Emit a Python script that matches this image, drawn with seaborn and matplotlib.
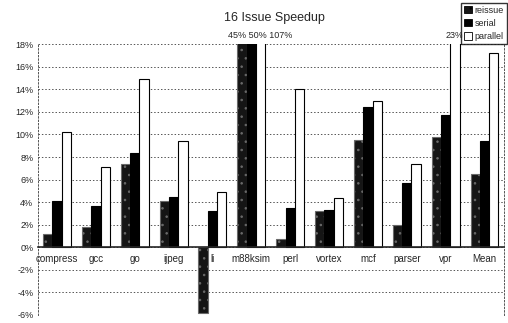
import pandas as pd
import matplotlib.pyplot as plt
import seaborn as sns
from matplotlib.ticker import FuncFormatter

# Benchmarks and speedup (%) for each configuration
benchmarks = ['compress', 'gcc', 'go', 'ijpeg', 'li', 'm88ksim', 'perl',
              'vortex', 'mcf', 'parser', 'vpr', 'Mean']
series = ['reissue', 'serial', 'parallel']
reissue = [1.2, 1.8, 7.4, 4.1, -5.8, 45, 0.7, 3.2, 9.5, 2.0, 9.8, 6.5]
serial = [4.1, 3.7, 8.4, 4.5, 3.2, 50, 3.5, 3.3, 12.4, 5.7, 11.7, 9.4]
parallel = [10.2, 7.1, 14.9, 9.4, 4.9, 107, 14.0, 4.4, 13.0, 7.4, 23, 17.2]

ymin, ymax = -6, 18

df = pd.DataFrame({'Benchmark': benchmarks * 3,
                   'Config': [s for s in series for _ in benchmarks],
                   'Speedup': reissue + serial + parallel})

sns.set_style("white")
plt.rcParams['font.family'] = ['Liberation Sans', 'DejaVu Sans']
plt.rcParams['hatch.linewidth'] = 0.6

fig = plt.figure(figsize=(5.08, 3.23), dpi=100)
ax = fig.add_axes([0.074, 0.025, 0.918, 0.838])

palette = {'reissue': '#151515', 'serial': '#000000', 'parallel': '#ffffff'}
sns.barplot(data=df, x='Benchmark', y='Speedup', hue='Config', hue_order=series,
            palette=palette, width=0.72, edgecolor='black', linewidth=0.8,
            saturation=1, ax=ax, legend=False)

# speckled look for the reissue bars
for bar in ax.containers[0]:
    bar.set_hatch('..')
    bar.set_edgecolor('#6a6a6a')

ax.set_ylim(ymin, ymax)
ax.set_xlim(-0.5, len(benchmarks) - 0.5)
ax.set_yticks(range(ymin, ymax + 1, 2))
ax.yaxis.set_major_formatter(FuncFormatter(lambda y, _: f'{y:.0f}%'))
ax.tick_params(axis='y', labelsize=6.5, length=0, pad=3)
ax.tick_params(axis='x', labelsize=7, length=0, pad=5)
ax.set_xlabel('')
ax.set_ylabel('')
ax.set_axisbelow(True)
ax.yaxis.grid(True, linestyle=(0, (1.5, 2)), color='#555555', linewidth=0.7)

# x axis sits at zero, labels just under it
ax.spines['bottom'].set_position(('data', 0))
ax.spines['bottom'].set_linewidth(1.2)
ax.spines['top'].set_visible(False)
for side in ['left', 'right']:
    ax.spines[side].set_linestyle((0, (1.5, 2)))
    ax.spines[side].set_color('#555555')
    ax.spines[side].set_linewidth(0.7)

# values that run off the top of the chart
for i, b in enumerate(benchmarks):
    over = [v for v in (reissue[i], serial[i], parallel[i]) if v > ymax]
    if over:
        label = ' '.join(f'{v:.0f}%' for v in over)
        ax.text(i + 0.22, ymax + 0.35, label, ha='center', va='bottom', fontsize=6.5)

fig.text(0.541, 0.945, '16 Issue Speedup', ha='center', va='center', fontsize=9)

handles = [plt.Rectangle((0, 0), 1, 1, facecolor=palette[s], edgecolor='black',
                         hatch='..' if s == 'reissue' else None, linewidth=0.6)
           for s in series]
fig.legend(handles, series, loc='upper right', bbox_to_anchor=(0.998, 0.992),
           fontsize=6.5, frameon=True, fancybox=False, edgecolor='black',
           handlelength=0.9, handleheight=0.9, handletextpad=0.3,
           labelspacing=0.45, borderpad=0.35, borderaxespad=0)

fig.savefig('out.png', dpi=100)
